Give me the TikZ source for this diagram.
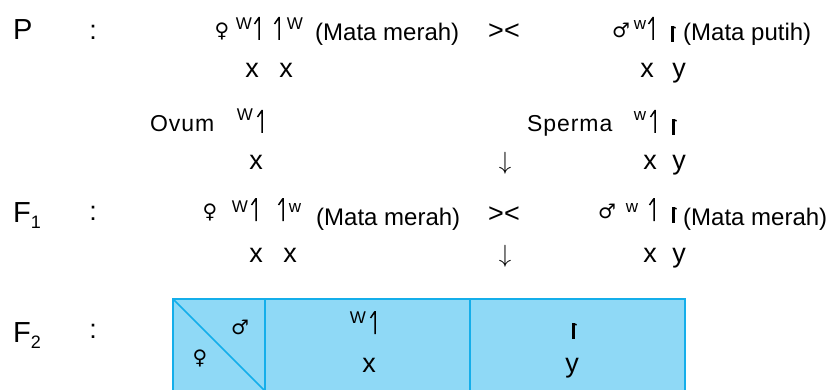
\documentclass[tikz,border=0pt]{standalone}
\usepackage{fontspec}
\setmainfont{Liberation Sans}
\newfontfamily\simbol{DejaVu Sans}
\usetikzlibrary{positioning}
\definecolor{kotakB}{HTML}{8FD9F6}
\definecolor{garisB}{HTML}{14AEEA}
\tikzset{
  xkrom/.pic={\draw[line width=1.5pt] (0,0) -- (0,23) (0,0.5) -- (-4.5,7);},
  ykrom/.pic={\draw[line width=3pt] (0,1) -- (0,17);
              \draw[line width=1.6pt] (0.5,1.8) -- (3.6,2.8);}
}

\begin{document}
\begin{tikzpicture}[x=1pt, y=-1pt,
  every node/.style={inner sep=0pt, anchor=base},
  besar/.style={font=\fontsize{27}{30}\selectfont},
  label/.style={font=\fontsize{29}{32}\selectfont, anchor=base west},
  ket/.style={font=\fontsize{24}{28}\selectfont, anchor=base west},
  gamet/.style={font=\fontsize{23}{26}\selectfont\addfontfeature{LetterSpace=4}, anchor=base west},
  alel/.style={font=\fontsize{17}{20}\selectfont},
  kelamin/.style={font=\simbol\fontsize{20}{22}\selectfont},
  panah/.style={font=\fontsize{26}{30}\selectfont}
]
  \useasboundingbox (0,0) rectangle (829,390);

  % parental
  \node[label] (P) at (13,40) {P};
  \node[besar] (c1) at (93,40) {:};
  \node[kelamin] (betina1) at (222,38) {♀};
  \node[alel] (W1a) at (244,30) {W};
  \pic at (259,17) {xkrom};
  \pic at (279,17) {xkrom};
  \node[alel] (W1b) at (295,30) {W};
  \node[ket] (fen1a) at (315,41) {(Mata merah)};
  \node[besar] (silang1) at (504,40) {><};
  \node[kelamin] (jantan1) at (621,38) {♂};
  \node[alel] (w1c) at (640,30) {w};
  \pic at (653,17) {xkrom};
  \pic at (672,25) {ykrom};
  \node[ket] (fen1b) at (683,41) {(Mata putih)};
  \foreach \n/\px/\t in {a/252/x, b/286/x, c/647/x, d/679/y}
    \node[besar] (r2\n) at (\px,78) {\t};

  % gamet
  \node[gamet] (ovum) at (150,132) {Ovum};
  \node[alel] (W3a) at (245,121) {W};
  \pic at (262,110) {xkrom};
  \node[gamet] (sperma) at (527,132) {Sperma};
  \node[alel] (w3b) at (640,121) {w};
  \pic at (655,110) {xkrom};
  \pic at (673,118) {ykrom};
  \foreach \n/\px/\t in {a/256/x, c/650/x, d/679/y}
    \node[besar] (r4\n) at (\px,170) {\t};
  \node[panah] (turun1) at (505,170) {$\downarrow$};

  % F1
  \node[label] (F1) at (13,222) {F\raisebox{-6pt}{\fontsize{18}{20}\selectfont 1}};
  \node[besar] (c2) at (93,220) {:};
  \node[kelamin] (betina2) at (210,218) {♀};
  \node[alel] (W5a) at (240,212) {W};
  \pic at (256,198) {xkrom};
  \pic at (283,198) {xkrom};
  \node[alel] (w5b) at (295,212) {w};
  \node[ket] (fen2a) at (316,225) {(Mata merah)};
  \node[besar] (silang2) at (504,222) {><};
  \node[kelamin] (jantan2) at (607,218) {♂};
  \node[alel] (w5c) at (632,212) {w};
  \pic at (654,198) {xkrom};
  \pic at (673,206) {ykrom};
  \node[ket] (fen2b) at (683,225) {(Mata merah)};
  \foreach \n/\px/\t in {a/256/x, b/290/x, d/650/x, e/679/y}
    \node[besar] (r6\n) at (\px,262) {\t};
  \node[panah] (turun2) at (505,262) {$\downarrow$};

  % F2
  \node[label] (F2) at (13,342) {F\raisebox{-6pt}{\fontsize{18}{20}\selectfont 2}};
  \node[besar] (c3) at (93,338) {:};
  \fill[kotakB] (173,299) rectangle (685,392);
  \draw[garisB, line width=2pt] (265,299) -- (265,392) (470,299) -- (470,392);
  \draw[garisB, line width=1.5pt] (173,299) -- (265,391);
  \draw[garisB, line width=2.5pt] (173,392) -- (173,299) -- (685,299) -- (685,392);
  \node[kelamin] (jantan3) at (240,334) {♂};
  \node[kelamin] (betina3) at (200,364) {♀};
  \node[alel] (W7) at (358,323) {W};
  \pic at (375,311) {xkrom};
  \node[besar] (x7) at (369,372) {x};
  \pic at (573,322) {ykrom};
  \node[besar] (y7) at (572,372) {y};
\end{tikzpicture}
\end{document}
